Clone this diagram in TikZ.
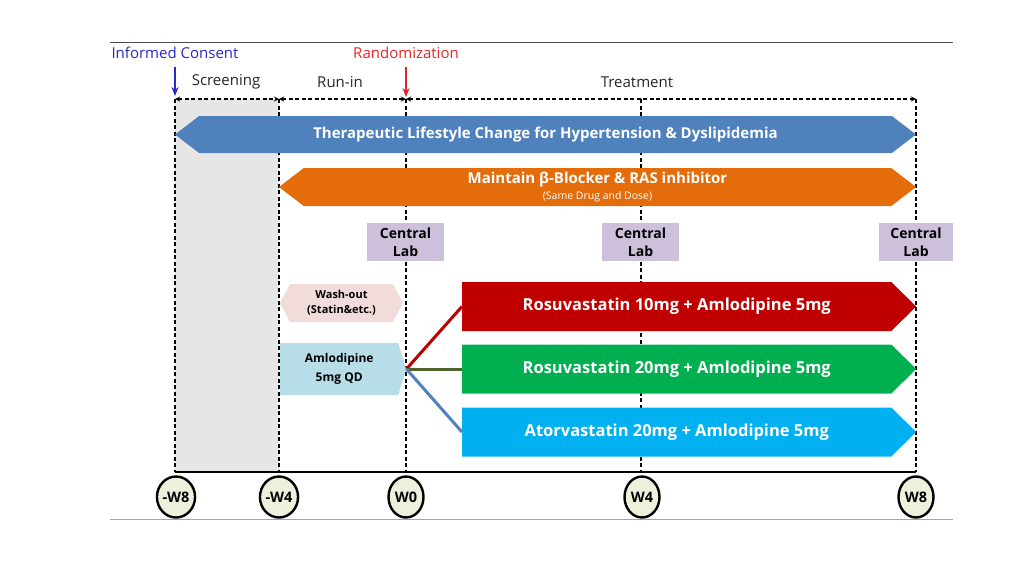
\documentclass[tikz,border=0pt]{standalone}
\usepackage{fontspec}
\setmainfont{Open Sans}
\usetikzlibrary{shapes.symbols,shapes.geometric,arrows.meta}

\definecolor{lifeblue}{HTML}{4F81BD}
\definecolor{maintorange}{HTML}{E46C0A}
\definecolor{lablilac}{HTML}{CCC0DA}
\definecolor{washpink}{HTML}{F2DCDB}
\definecolor{amloblue}{HTML}{B7DDE8}
\definecolor{rosured}{HTML}{C00000}
\definecolor{rosugreen}{HTML}{00B050}
\definecolor{atorsky}{HTML}{00B0F0}
\definecolor{screengray}{HTML}{E6E6E6}
\definecolor{weekfill}{HTML}{EEF0DC}
\definecolor{oliveline}{HTML}{4F6228}
\definecolor{consentblue}{RGB}{40,40,200}
\definecolor{randred}{RGB}{228,38,42}

\begin{document}
\begin{tikzpicture}[x=1pt, y=-1pt, >=stealth,
    band/.style={signal, signal to=east and west, inner sep=0pt, text=white,
      font=\bfseries\fontsize{15}{17}\selectfont},
    arm/.style={signal, signal to=east, signal pointer angle=89, inner sep=0pt, anchor=west,
      minimum width=454pt, minimum height=49pt, text=white,
      font=\bfseries\fontsize{16.5}{18}\selectfont},
    labbox/.style={rectangle, fill=lablilac, minimum width=77pt, minimum height=38pt,
      inner sep=0pt, align=center, font=\bfseries\fontsize{14}{18.5}\selectfont},
    week/.style={ellipse, draw, line width=2.4pt, fill=weekfill, minimum width=35pt,
      minimum height=41pt, inner sep=0pt, font=\bfseries\fontsize{14.5}{16}\selectfont},
    phase/.style={font=\fontsize{15}{17}\selectfont, text=black!85},
    eventarrow/.style={-{Stealth[length=9pt, width=7pt]}, line width=2pt},
    guide/.style={dashed, line width=1.3pt, dash pattern=on 4pt off 2.5pt}]
  \useasboundingbox (0,0) rectangle (1024,574);

  % frame lines
  \draw[black!70, line width=0.8pt] (110,42) -- (953,42);
  \draw[black!35, line width=0.8pt] (110,519) -- (953,519);

  % week positions
  \foreach \n/\x in {m8/175, m4/279, w0/406, w4/641, w8/916} {
    \coordinate (top-\n) at (\x,99);
    \coordinate (bot-\n) at (\x,472);
  }

  % screening period
  \fill[screengray] (top-m8) rectangle (bot-m4);
  \foreach \n in {m8, m4, w0, w4, w8}
    \draw[guide] (top-\n) -- (bot-\n);
  \draw[guide, <->] (top-m8) -- (top-m4);
  \draw[guide, <->] (top-m4) -- (top-w0);
  \draw[guide, <->] (top-w0) -- (top-w8);

  \node[phase] (screen) at (226,82) {Screening};
  \node[phase] (runin) at (340,82) {Run-in};
  \node[phase] (treat) at (637,82) {Treatment};

  \node[font=\fontsize{15}{17}\selectfont, text=consentblue, inner sep=0pt] (consent) at (175,53) {Informed Consent};
  \node[font=\fontsize{15}{17}\selectfont, text=randred, inner sep=0pt] (random) at (406,53) {Randomization};
  \coordinate (consent-tip) at (175,96);
  \coordinate (random-tip) at (406,97);
  \draw[eventarrow, consentblue] (175,67) -- (consent-tip);
  \draw[eventarrow, randred] (406,67) -- (random-tip);

  % bands
  \node[band, fill=lifeblue, signal pointer angle=75, minimum width=741pt, minimum height=37pt]
    (life) at (545.5,134.5) {Therapeutic Lifestyle Change for Hypertension \& Dyslipidemia};
  \node[band, fill=maintorange, signal pointer angle=75, minimum width=637pt, minimum height=38pt, align=center]
    (maint) at (597.5,187) {Maintain β-Blocker \& RAS inhibitor\\[-1pt]{\mdseries\fontsize{10.5}{12}\selectfont (Same Drug and Dose)}};

  % central lab
  \node[labbox] (lab0) at (405.5,242) {Central\\Lab};
  \node[labbox] (lab4) at (640.5,242) {Central\\Lab};
  \node[labbox, minimum width=74pt] (lab8) at (916,242) {Central\\Lab};

  % run-in
  \node[signal, signal to=east and west, signal pointer angle=124, fill=washpink, inner sep=0pt,
    minimum width=123pt, minimum height=38pt, align=center, font=\bfseries\fontsize{11}{15}\selectfont]
    (wash) at (341.5,303) {Wash-out\\(Statin\&etc.)};
  \node[signal, signal to=east, signal pointer angle=146, fill=amloblue, inner sep=0pt, anchor=west,
    minimum width=126pt, minimum height=52pt, align=center, font=\bfseries\fontsize{12}{19}\selectfont]
    (amlo) at (280,369) {Amlodipine\\5mg QD};

  % treatment arms
  \node[arm, fill=rosured] (rosu10) at (462,306.5) {Rosuvastatin 10mg + Amlodipine 5mg};
  \node[arm, fill=rosugreen] (rosu20) at (462,369) {Rosuvastatin 20mg + Amlodipine 5mg};
  \node[arm, fill=atorsky] (ator20) at (462,432) {Atorvastatin 20mg + Amlodipine 5mg};

  \draw[rosured, line width=3pt] (amlo.east) -- (rosu10.west);
  \draw[oliveline, line width=3pt] (amlo.east) -- (rosu20.west);
  \draw[lifeblue, line width=3pt] (amlo.east) -- (ator20.west);

  % timeline
  \draw[line width=2pt] (bot-m8) -- (bot-w8);
  \node[week] (wk-m8) at (176,497) {-W8};
  \node[week] (wk-m4) at (279,497) {-W4};
  \node[week] (wk-w0) at (406,497) {W0};
  \node[week] (wk-w4) at (642,497) {W4};
  \node[week] (wk-w8) at (916,497) {W8};
\end{tikzpicture}
\end{document}
